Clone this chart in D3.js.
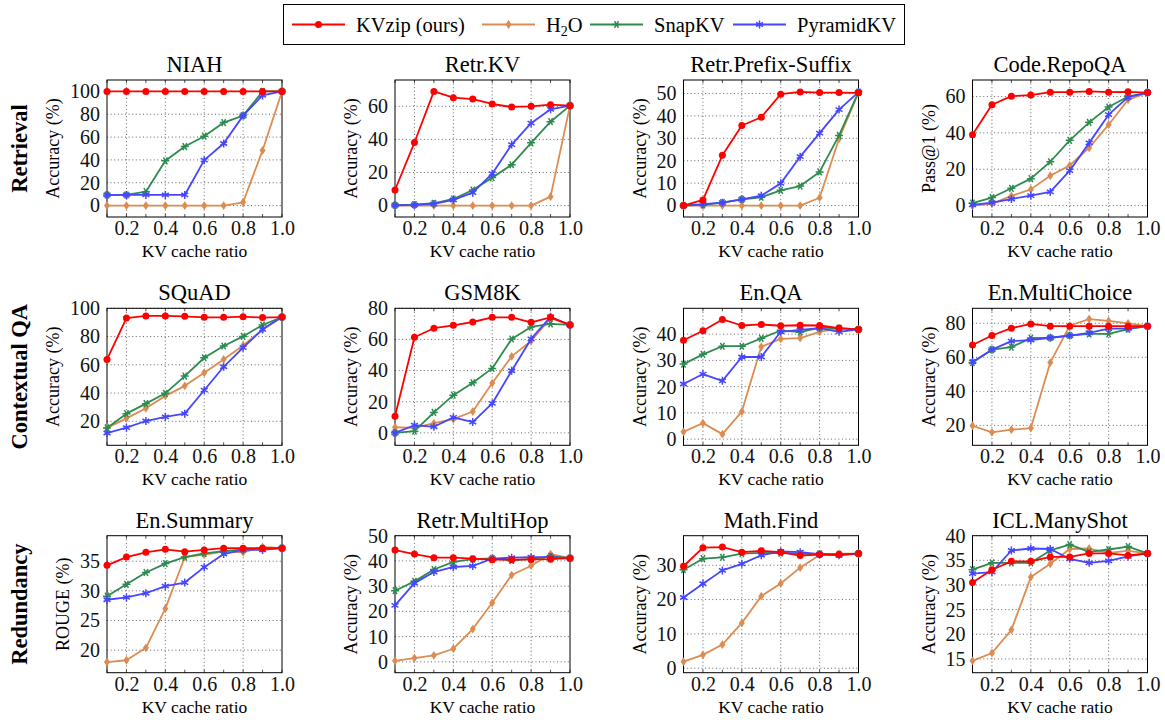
<!DOCTYPE html>
<html>
<head>
<meta charset="utf-8">
<script src="https://cdn.jsdelivr.net/npm/d3@7"></script>
<style>
body { margin: 0; background: #fff; }
svg { display: block; font-family: "Liberation Serif", "Times New Roman", serif; }
</style>
</head>
<body>
<svg id="chart" width="1165" height="723"></svg>
<script>
// KV cache ratios on the x axis
var ratios = [0.1, 0.2, 0.3, 0.4, 0.5, 0.6, 0.7, 0.8, 0.9, 1.0];
var xTickValues = [0.2, 0.4, 0.6, 0.8, 1.0];

var tasks = ['NIAH', 'Retr.KV', 'Retr.Prefix-Suffix', 'Code.RepoQA',
             'SQuAD', 'GSM8K', 'En.QA', 'En.MultiChoice',
             'En.Summary', 'Retr.MultiHop', 'Math.Find', 'ICL.ManyShot'];
var groups = ['Retrieval', 'Contextual QA', 'Redundancy'];
var yLabels = ['Accuracy (%)', 'Accuracy (%)', 'Accuracy (%)', 'Pass@1 (%)',
               'Accuracy (%)', 'Accuracy (%)', 'Accuracy (%)', 'Accuracy (%)',
               'ROUGE (%)', 'Accuracy (%)', 'Accuracy (%)', 'Accuracy (%)'];
var yTicks = [
    [0, 20, 40, 60, 80, 100], [0, 20, 40, 60], [0, 10, 20, 30, 40, 50], [0, 20, 40, 60],
    [20, 40, 60, 80, 100], [0, 20, 40, 60, 80], [0, 10, 20, 30, 40], [20, 40, 60, 80],
    [20, 25, 30, 35], [0, 10, 20, 30, 40, 50], [0, 10, 20, 30], [15, 20, 25, 30, 35, 40]
];
var yLimits = [
    [-10, 110], [-6.9, 75.9], [-5.1, 56], [-6.3, 69.1],
    [3, 100], [-8, 80], [-2.35, 49.85], [8.3, 88.8],
    [16.2, 39.3], [-4.3, 50], [-1.3, 38.6], [12.2, 40]
];

// one row per task, in the order of `tasks`
var kvzip = [
    [100, 100, 100, 100, 100, 100, 100, 100, 100, 100],
    [9.4, 38.1, 69.0, 65.2, 64.4, 61.4, 59.6, 60.0, 61.0, 60.4],
    [0, 2.5, 22.4, 35.7, 39.4, 49.7, 50.7, 50.4, 50.4, 50.3],
    [39.0, 55.5, 60.2, 60.8, 62.4, 62.4, 62.8, 62.4, 62.6, 62.2],
    [63.8, 93.1, 94.6, 94.6, 94.3, 93.6, 93.6, 94.1, 93.4, 93.8],
    [10.7, 61.4, 67.2, 69.1, 71.2, 74.2, 74.2, 71.0, 74.2, 69.3],
    [37.7, 41.3, 45.6, 43.3, 43.7, 43.2, 43.4, 43.3, 42.3, 41.8],
    [67.2, 72.8, 77.1, 79.6, 78.3, 78.3, 78.3, 78.3, 78.3, 78.3],
    [34.3, 35.7, 36.5, 37.0, 36.6, 36.9, 37.2, 37.2, 37.2, 37.2],
    [44.3, 42.7, 41.3, 41.3, 40.9, 40.5, 40.5, 40.6, 40.7, 41.1],
    [29.7, 35.1, 35.3, 33.8, 34.2, 33.8, 32.8, 33.1, 33.1, 33.4],
    [30.5, 33.1, 34.8, 34.8, 35.7, 35.7, 36.4, 36.4, 36.0, 36.4]
];
var h2o = [
    [0, 0, 0, 0, 0, 0, 0, 2.9, 48.3, 100],
    [0, 0, 0, 0, 0, 0, 0, 0, 5.4, 60.4],
    [0, 0, 0, 0, 0, 0, 0, 3.5, 29.8, 50.4],
    [0, 0.9, 5.3, 8.9, 16.4, 22.1, 31.8, 44.5, 58.2, 62.2],
    [15.3, 22.1, 29.2, 38.0, 45.1, 54.4, 63.8, 73.7, 84.9, 93.8],
    [3.6, 3.2, 6.2, 8.8, 13.7, 32.0, 49.1, 59.0, 73.6, 69.3],
    [2.8, 6.1, 1.9, 10.5, 35.2, 38.2, 38.5, 40.9, 42.2, 41.8],
    [19.8, 15.9, 17.5, 18.4, 56.9, 78.6, 82.5, 81.4, 80.0, 78.3],
    [18.0, 18.3, 20.4, 27.0, 35.7, 36.1, 36.6, 36.5, 37.4, 37.2],
    [0.4, 1.5, 2.6, 5.2, 13.0, 23.4, 34.4, 38.1, 42.7, 41.1],
    [1.9, 3.9, 6.9, 13.2, 21.0, 24.7, 29.3, 33.0, 33.4, 33.4],
    [14.6, 16.2, 20.9, 31.6, 34.3, 37.3, 37.4, 36.5, 36.9, 36.4]
];
var snapkv = [
    [9.3, 9.3, 12.2, 39.2, 51.7, 60.8, 72.7, 78.8, 100, 100],
    [0.2, 0.6, 1.4, 4.0, 9.4, 16.9, 24.7, 37.9, 50.7, 60.4],
    [0, 0.3, 1.3, 2.8, 3.7, 6.8, 8.7, 15.0, 31.3, 50.6],
    [1.3, 4.4, 9.5, 14.8, 24.1, 35.9, 45.8, 54.2, 60.0, 62.2],
    [15.3, 25.4, 32.5, 39.8, 52.0, 65.0, 73.3, 80.1, 88.2, 93.8],
    [0, 1.1, 13.1, 24.2, 32.2, 41.4, 60.3, 68.0, 70.0, 69.3],
    [28.6, 32.3, 35.4, 35.4, 38.4, 41.4, 40.8, 42.5, 42.2, 41.8],
    [56.9, 64.5, 66.0, 71.3, 71.5, 72.8, 73.8, 73.8, 76.5, 78.3],
    [29.1, 31.1, 33.1, 34.6, 35.7, 36.3, 36.7, 37.0, 37.1, 37.2],
    [28.2, 31.9, 36.6, 39.6, 40.7, 41.0, 40.2, 40.7, 41.8, 41.1],
    [28.7, 31.9, 32.3, 33.4, 33.6, 33.5, 33.3, 33.3, 33.2, 33.4],
    [33.1, 34.5, 34.5, 34.5, 37.0, 38.2, 36.7, 37.2, 37.8, 36.4]
];
var pyramidkv = [
    [9.3, 9.3, 9.3, 9.3, 9.3, 39.8, 54.4, 78.8, 96.5, 100],
    [0.2, 0.4, 1.0, 3.4, 7.8, 19.3, 36.9, 49.8, 58.2, 60.4],
    [0, 0.6, 1.3, 2.8, 4.4, 9.9, 21.8, 32.3, 42.8, 50.6],
    [0.4, 1.6, 3.6, 5.5, 7.5, 19.2, 34.5, 50.0, 59.7, 62.2],
    [11.7, 15.5, 20.2, 23.1, 25.4, 42.0, 58.6, 72.1, 85.1, 93.8],
    [0, 4.9, 3.9, 9.9, 6.9, 18.9, 39.9, 60.3, 74.5, 69.3],
    [21.0, 24.8, 22.2, 31.3, 31.3, 40.9, 41.6, 42.3, 40.9, 41.8],
    [57.3, 64.5, 69.5, 70.1, 71.5, 72.8, 74.4, 76.9, 76.9, 78.3],
    [28.5, 28.9, 29.6, 30.8, 31.4, 34.0, 36.2, 36.9, 36.9, 37.2],
    [22.4, 31.2, 35.6, 37.6, 38.0, 40.9, 41.3, 41.5, 41.5, 41.1],
    [20.6, 24.6, 28.5, 30.4, 32.9, 34.0, 33.8, 33.2, 32.9, 33.4],
    [32.3, 32.6, 37.0, 37.4, 37.3, 35.3, 34.5, 34.9, 35.8, 36.4]
];

var methods = [
    { name: 'KVzip (ours)', color: '#ff0000', mark: 'circle', scores: kvzip },
    { name: 'H2O', color: '#dc8c50', mark: 'diamond', scores: h2o },
    { name: 'SnapKV', color: '#2e8b50', mark: 'xstar', scores: snapkv },
    { name: 'PyramidKV', color: '#4646ff', mark: 'asterisk', scores: pyramidkv }
];
// draw order: baselines first, ours on top
var drawOrder = [1, 2, 3, 0];

var svg = d3.select('#chart');
svg.append('rect').attr('width', 1165).attr('height', 723).attr('fill', '#fff');

var colLeft = [107, 395, 683.5, 972.5];
var rowTop = [80, 308.3, 535.7];
var pw = 175, ph = 137;
var serif = '"Liberation Serif", "Times New Roman", serif';

function markPath(kind) {
    if (kind === 'diamond') return 'M0,-4.4L3,0L0,4.4L-3,0Z';
    var r = 4, angles;
    if (kind === 'xstar') angles = [0, 60, 120];
    else angles = [90, 30, 150];
    return angles.map(function (a) {
        var t = a * Math.PI / 180;
        var dx = r * Math.cos(t), dy = r * Math.sin(t);
        return 'M' + (-dx) + ',' + (-dy) + 'L' + dx + ',' + dy;
    }).join('');
}

function drawMark(sel, m) {
    if (m.mark === 'circle') {
        sel.append('circle').attr('r', 3.5).attr('fill', m.color);
    } else if (m.mark === 'diamond') {
        sel.append('path').attr('d', markPath('diamond')).attr('fill', m.color);
    } else {
        sel.append('path').attr('d', markPath(m.mark))
            .attr('stroke', m.color).attr('stroke-width', 1.5).attr('fill', 'none');
    }
}

tasks.forEach(function (task, i) {
    var r = Math.floor(i / 4), c = i % 4;
    var g = svg.append('g')
        .attr('transform', 'translate(' + colLeft[c] + ',' + rowTop[r] + ')');

    var x = d3.scaleLinear().domain([0.1, 1.0]).range([0, pw]);
    var y = d3.scaleLinear().domain(yLimits[i]).range([ph, 0]);

    // grid
    g.append('g').attr('class', 'grid')
        .selectAll('line.gx').data([0.2, 0.4, 0.6, 0.8]).enter()
        .append('line')
        .attr('x1', function (d) { return x(d); }).attr('x2', function (d) { return x(d); })
        .attr('y1', 0).attr('y2', ph);
    g.select('.grid')
        .selectAll('line.gy').data(yTicks[i]).enter()
        .append('line')
        .attr('x1', 0).attr('x2', pw)
        .attr('y1', function (d) { return y(d); }).attr('y2', function (d) { return y(d); });
    g.selectAll('.grid line')
        .attr('stroke', '#222').attr('stroke-width', 0.7).attr('stroke-dasharray', '1,2.6');

    // small inner ticks
    ratios.forEach(function (v) {
        g.append('line').attr('x1', x(v)).attr('x2', x(v)).attr('y1', ph).attr('y2', ph - 3)
            .attr('stroke', '#000').attr('stroke-width', 0.7);
        g.append('line').attr('x1', x(v)).attr('x2', x(v)).attr('y1', 0).attr('y2', 3)
            .attr('stroke', '#000').attr('stroke-width', 0.7);
    });

    // axes (labels only)
    var xAxis = g.append('g').attr('transform', 'translate(0,' + ph + ')')
        .call(d3.axisBottom(x).tickValues(xTickValues).tickFormat(d3.format('.1f'))
            .tickSize(0).tickPadding(4));
    var yAxis = g.append('g')
        .call(d3.axisLeft(y).tickValues(yTicks[i]).tickSize(0).tickPadding(7));
    [xAxis, yAxis].forEach(function (a) {
        a.attr('font-family', serif);
        a.select('.domain').remove();
        a.selectAll('text').attr('font-size', 20).attr('fill', '#111')
            .attr('font-family', serif);
    });

    // frame
    g.append('rect').attr('width', pw).attr('height', ph)
        .attr('fill', 'none').attr('stroke', '#000').attr('stroke-width', 1);

    // series
    var line = d3.line()
        .x(function (d, k) { return x(ratios[k]); })
        .y(function (d) { return y(d); });
    drawOrder.forEach(function (mi) {
        var m = methods[mi];
        var vals = m.scores[i];
        g.append('path').datum(vals).attr('d', line)
            .attr('fill', 'none').attr('stroke', m.color).attr('stroke-width', 1.8)
            .attr('stroke-linejoin', 'round');
        vals.forEach(function (v, k) {
            var mk = g.append('g').attr('transform', 'translate(' + x(ratios[k]) + ',' + y(v) + ')');
            drawMark(mk, m);
        });
    });

    // title and labels
    g.append('text').attr('x', pw / 2).attr('y', -8)
        .attr('text-anchor', 'middle').attr('font-size', 22.5).attr('fill', '#000')
        .text(task);
    g.append('text').attr('x', pw / 2).attr('y', ph + 40)
        .attr('text-anchor', 'middle').attr('font-size', 17.5).attr('fill', '#000')
        .text('KV cache ratio');
    var bb = yAxis.node().getBBox();
    g.append('text')
        .attr('transform', 'translate(' + (bb.x - 11) + ',' + (ph / 2) + ') rotate(-90)')
        .attr('text-anchor', 'middle').attr('font-size', 18).attr('fill', '#000')
        .text(yLabels[i]);
});

// row group labels
groups.forEach(function (name, r) {
    svg.append('text')
        .attr('transform', 'translate(27,' + (rowTop[r] + ph / 2) + ') rotate(-90)')
        .attr('text-anchor', 'middle').attr('font-size', 22.5).attr('font-weight', 'bold')
        .text(name);
});

// legend
var legend = svg.append('g');
legend.append('rect').attr('x', 283.5).attr('y', 4.5).attr('width', 621).attr('height', 40)
    .attr('fill', '#fff').attr('stroke', '#000').attr('stroke-width', 1);
var legendX = [292, 482, 590, 733];
methods.forEach(function (m, k) {
    var lg = legend.append('g').attr('transform', 'translate(' + legendX[k] + ',24.5)');
    lg.append('line').attr('x1', 0).attr('x2', 53).attr('stroke', m.color).attr('stroke-width', 1.8);
    drawMark(lg.append('g').attr('transform', 'translate(26.5,0)'), m);
    var t = lg.append('text').attr('x', 64).attr('y', 7).attr('font-size', 20.5).attr('fill', '#000');
    if (m.name === 'H2O') {
        t.append('tspan').text('H');
        t.append('tspan').attr('font-size', 14).attr('dy', 4).text('2');
        t.append('tspan').attr('dy', -4).text('O');
    } else {
        t.text(m.name);
    }
});
</script>
</body>
</html>
